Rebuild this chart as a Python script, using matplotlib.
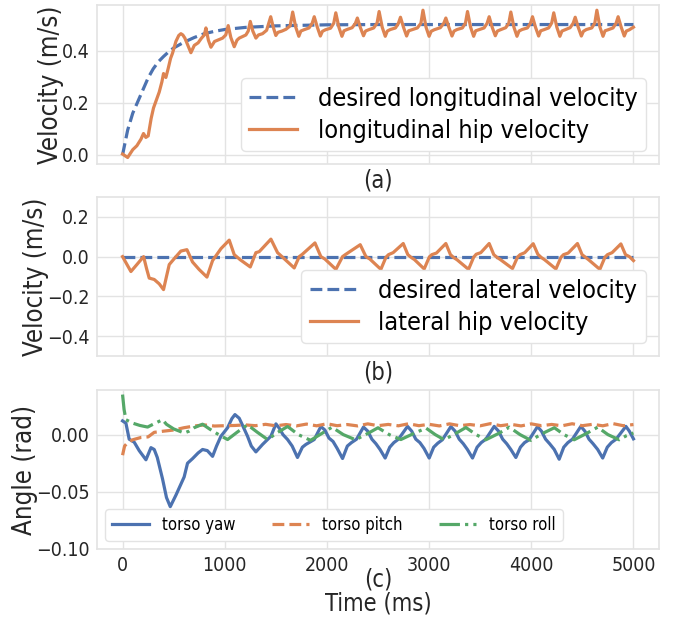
import matplotlib
matplotlib.use("Agg")
import matplotlib.pyplot as plt

# ---------------- data ----------------
desired_long_t = [0, 50, 100, 150, 200, 250, 300, 350, 400, 450, 500, 600, 700, 800, 900, 1000,
                  1200, 1500, 2000, 2500, 3000, 4000, 5000]
desired_long_v = [0.0, 0.095, 0.16, 0.205, 0.25, 0.295, 0.33, 0.357, 0.377, 0.395, 0.41, 0.432,
                  0.45, 0.465, 0.474, 0.481, 0.489, 0.495, 0.499, 0.5, 0.5, 0.5, 0.5]

long_t = [0, 50, 100, 140, 180, 205, 228, 251, 280, 303, 330, 359, 385, 401, 424, 447, 470, 489,
          522, 550, 571, 590, 610, 640, 669, 702, 740, 773, 800, 816, 840, 865, 900, 930, 979,
          1010, 1034, 1060, 1093, 1120, 1142, 1207, 1230, 1250, 1275, 1305, 1330, 1370, 1410,
          1450, 1475, 1500, 1520, 1560, 1600, 1640,
          1645, 1665, 1695, 1725, 1745, 1775, 1825,
          1856, 1876, 1906, 1936, 1956, 1986, 2036,
          2067, 2087, 2117, 2147, 2167, 2197, 2247,
          2278, 2298, 2328, 2358, 2378, 2408, 2458,
          2491, 2511, 2541, 2571, 2591, 2621, 2671,
          2700, 2720, 2750, 2780, 2800, 2830, 2885,
          2920, 2940, 2970, 3000, 3020, 3050, 3110,
          3144, 3164, 3194, 3224, 3244, 3274, 3326,
          3356, 3376, 3406, 3436, 3456, 3486, 3538,
          3568, 3588, 3618, 3648, 3668, 3698, 3750,
          3780, 3800, 3830, 3860, 3880, 3910, 3962,
          3992, 4012, 4042, 4072, 4092, 4122, 4170,
          4200, 4220, 4250, 4280, 4300, 4330, 4380,
          4410, 4430, 4460, 4490, 4510, 4540, 4592,
          4622, 4642, 4672, 4702, 4722, 4752, 4800,
          4830, 4850, 4880, 4910, 4930, 4960, 5000]
long_v = [0.003, -0.01, 0.02, 0.035, 0.06, 0.082, 0.067, 0.073, 0.14, 0.18, 0.21, 0.241, 0.28,
          0.312, 0.297, 0.332, 0.37, 0.39, 0.435, 0.458, 0.465, 0.46, 0.448, 0.42, 0.392, 0.42,
          0.43, 0.448, 0.46, 0.487, 0.44, 0.413, 0.435, 0.44, 0.448, 0.46, 0.496, 0.45, 0.415,
          0.44, 0.448, 0.46, 0.475, 0.512, 0.475, 0.448, 0.46, 0.465, 0.478, 0.53, 0.49, 0.458,
          0.47, 0.475, 0.482, 0.495,
          0.505, 0.548, 0.49, 0.455, 0.475, 0.48, 0.487,
          0.505, 0.530, 0.49, 0.456, 0.474, 0.48, 0.486,
          0.505, 0.545, 0.49, 0.455, 0.476, 0.481, 0.488,
          0.504, 0.525, 0.488, 0.457, 0.475, 0.48, 0.487,
          0.506, 0.550, 0.49, 0.455, 0.475, 0.481, 0.487,
          0.505, 0.528, 0.489, 0.456, 0.476, 0.48, 0.487,
          0.505, 0.555, 0.49, 0.455, 0.474, 0.48, 0.488,
          0.505, 0.525, 0.489, 0.456, 0.475, 0.481, 0.487,
          0.506, 0.550, 0.49, 0.455, 0.476, 0.48, 0.487,
          0.505, 0.530, 0.489, 0.457, 0.475, 0.48, 0.488,
          0.505, 0.548, 0.49, 0.455, 0.475, 0.481, 0.487,
          0.505, 0.530, 0.489, 0.456, 0.476, 0.48, 0.487,
          0.506, 0.545, 0.49, 0.455, 0.475, 0.48, 0.488,
          0.505, 0.528, 0.489, 0.456, 0.474, 0.481, 0.487,
          0.506, 0.555, 0.49, 0.455, 0.476, 0.48, 0.487,
          0.505, 0.530, 0.49, 0.456, 0.475, 0.48, 0.49]

desired_lat_t = [0, 5000]
desired_lat_v = [0.0, 0.0]

lat_t = [0, 82, 140, 206, 235, 261, 310, 359, 401, 430, 457, 506, 571, 630, 685, 750, 826, 881,
         963, 1044, 1093, 1150, 1250, 1305, 1338, 1452, 1517, 1560, 1680, 1729, 1760, 1883, 1941,
         1980, 2088, 2153, 2180, 2326, 2382, 2420,
         2528, 2578, 2603, 2648, 2747, 2792, 2822, 2857,
         2952, 3002, 3027, 3072, 3164, 3209, 3239, 3274,
         3386, 3436, 3461, 3506, 3588, 3633, 3663, 3698,
         3816, 3866, 3891, 3936, 4019, 4064, 4094, 4129,
         4241, 4291, 4316, 4361, 4452, 4497, 4527, 4562,
         4671, 4721, 4746, 4791, 4877, 4922, 4960, 5000]
lat_v = [0.0, -0.075, -0.04, 0.0, -0.06, -0.108, -0.115, -0.137, -0.166, -0.1, -0.04, -0.01,
         0.028, 0.035, -0.027, -0.065, -0.103, -0.02, 0.04, 0.083, 0.01, -0.015, -0.052, 0.02,
         0.025, 0.088, 0.02, 0.0, -0.057, 0.0, 0.012, 0.069, 0.0, -0.012, -0.064, 0.0, 0.01,
         0.06, 0.0, -0.012,
         -0.064, -0.003, 0.01, 0.02, 0.066, 0.01, -0.003, -0.015,
         -0.062, -0.002, 0.01, 0.018, 0.066, 0.01, -0.004, -0.016,
         -0.064, -0.003, 0.012, 0.02, 0.066, 0.01, -0.003, -0.015,
         -0.06, -0.002, 0.01, 0.02, 0.065, 0.012, -0.003, -0.015,
         -0.062, -0.003, 0.01, 0.018, 0.066, 0.01, -0.002, -0.016,
         -0.064, -0.003, 0.01, 0.02, 0.064, 0.01, 0.0, -0.02]

yaw_t = [0, 33, 65, 114, 163, 229, 278, 310, 340, 391, 430, 467, 522, 603, 636, 685, 740, 783,
         830, 881, 920, 963, 1028, 1070, 1100, 1142, 1180, 1223, 1260, 1305, 1370, 1452, 1501,
         1533, 1570, 1615, 1660, 1712, 1760, 1794, 1876, 1941, 1980, 2020, 2060, 2100, 2153,
         2200, 2240, 2290, 2358, 2400, 2440, 2480, 2520, 2570,
         2615, 2655, 2700, 2789, 2830, 2870, 2910, 2950, 3001,
         3045, 3085, 3130, 3213, 3255, 3295, 3335, 3375, 3425,
         3470, 3510, 3555, 3637, 3680, 3720, 3760, 3800, 3849,
         3894, 3934, 3979, 4061, 4100, 4140, 4180, 4225, 4273,
         4318, 4358, 4403, 4485, 4525, 4565, 4605, 4650, 4699,
         4744, 4784, 4830, 4926, 4960, 5000]
yaw_v = [0.012, 0.010, -0.004, -0.0066, -0.014, -0.022, -0.0114, -0.013, -0.02, -0.0386, -0.055,
         -0.063, -0.053, -0.037, -0.025, -0.021, -0.016, -0.013, -0.014, -0.019, -0.01, -0.0014,
         0.006, 0.014, 0.0175, 0.0143, 0.007, -0.0014, -0.01, -0.0151, -0.0086, -0.0014, 0.0094,
         0.0057, 0.0, -0.0043, -0.01, -0.02, -0.011, -0.0086, -0.0043, 0.0071, 0.004, -0.003,
         -0.006, -0.012, -0.0209, -0.01, -0.007, -0.004, 0.0066, 0.003, -0.004, -0.008, -0.013,
         -0.0205,
         -0.011, -0.007, -0.004, 0.0072, 0.003, -0.004, -0.007, -0.012, -0.0205,
         -0.011, -0.0075, -0.0045, 0.007, 0.003, -0.004, -0.008, -0.013, -0.0205,
         -0.011, -0.007, -0.004, 0.0072, 0.003, -0.004, -0.008, -0.013, -0.02,
         -0.011, -0.007, -0.0045, 0.007, 0.003, -0.004, -0.008, -0.013, -0.0215,
         -0.011, -0.007, -0.004, 0.0072, 0.003, -0.004, -0.008, -0.013, -0.0205,
         -0.011, -0.007, -0.004, 0.0072, 0.003, -0.0037]

pitch_t = [0, 20, 50, 100, 180, 250, 310, 400, 500, 600, 700, 800, 900, 1000, 1100, 1200,
           1300, 1400, 1500, 1600, 1700, 1800, 1900, 2000, 2100, 2200, 2300, 2400, 2500, 2600,
           2700, 2800, 2900, 3000, 3100, 3200, 3300, 3400, 3500, 3600, 3700, 3800, 3900, 4000,
           4100, 4200, 4300, 4400, 4500, 4600, 4700, 4800, 4900, 5000]
pitch_v = [-0.018, -0.01, -0.007, -0.0045, -0.0025, -0.002, 0.002, 0.003, 0.004, 0.006, 0.0075,
           0.0085, 0.0075, 0.0078, 0.008, 0.0085, 0.0078, 0.009, 0.0077, 0.0088, 0.0076, 0.0092,
           0.0077, 0.0095, 0.0078, 0.0088, 0.0076, 0.0094, 0.0078, 0.0089, 0.0077, 0.0095, 0.0078,
           0.009, 0.0076, 0.0094, 0.0078, 0.0088, 0.0077, 0.0096, 0.0078, 0.009, 0.0076, 0.0094,
           0.0078, 0.0089, 0.0077, 0.0095, 0.0078, 0.009, 0.0077, 0.0096, 0.0078, 0.0088]

roll_t = [0, 15, 33, 100, 170, 245, 320, 391, 430, 500, 603, 650, 700, 783, 850, 940, 1028,
          1120, 1223, 1320, 1419, 1520, 1615, 1720, 1840, 1950, 2050, 2160, 2280, 2400, 2500,
          2610, 2724, 2850, 2970, 3060, 3148, 3260, 3360, 3460, 3556, 3680, 3785, 3890, 3996,
          4110, 4226, 4320, 4420, 4540, 4650, 4750, 4860, 4930, 5000]
roll_v = [0.035, 0.022, 0.013, 0.01, 0.008, 0.0066, 0.01, 0.013, 0.009, 0.005, 0.0014, 0.003,
          0.006, 0.0091, 0.005, 0.0, -0.0043, 0.002, 0.0086, 0.002, -0.0043, 0.002, 0.0071, 0.0,
          -0.005, 0.001, 0.0065, 0.0, -0.0045, 0.001, 0.006, 0.0, -0.0043, 0.001, 0.0057, 0.0,
          -0.0045, 0.001, 0.0062, 0.0, -0.0045, 0.001, 0.0065, 0.0, -0.005, 0.001, 0.006, 0.0,
          -0.0045, 0.001, 0.0065, 0.0, -0.0045, -0.001, 0.0014]

xticks = [0, 1000, 2000, 3000, 4000, 5000]
yticks_a = [0.0, 0.2, 0.4]
yticks_b = [-0.4, -0.2, 0.0, 0.2]
yticks_c = [-0.10, -0.05, 0.00]

# ---------------- style ----------------
BLUE, ORANGE, GREEN = "#4C72B0", "#DD8452", "#55A868"
GRID = "#E3E3E3"
TXT = "#262626"
plt.rcParams["font.family"] = ["DejaVu Sans"]
plt.rcParams["font.stretch"] = "condensed"
plt.rcParams["axes.unicode_minus"] = True

fig = plt.figure(figsize=(6.77, 6.2), dpi=100)
L, W, H = 97 / 677, (659 - 97) / 677, 159 / 620
tops = [5, 197, 390]
axes = [fig.add_axes([L, 1 - (t + 159) / 620, W, H]) for t in tops]

for ax in axes:
    ax.set_facecolor("white")
    ax.grid(True, color=GRID, linewidth=1.0)
    ax.set_axisbelow(True)
    for s in ax.spines.values():
        s.set_color(GRID)
        s.set_linewidth(1.2)
    ax.tick_params(axis="both", length=0, labelsize=14, colors=TXT, pad=5)
    ax.set_xlim(-250, 5250)
    ax.set_xticks(xticks)

lw = 2.3
YL, XL, LEG = 18.5, 17, 18.2
a, b, c = axes
a.plot(desired_long_t, desired_long_v, "--", color=BLUE, lw=lw, label="desired longitudinal velocity")
a.plot(long_t, long_v, "-", color=ORANGE, lw=lw, label="longitudinal hip velocity")
a.set_yticks(yticks_a)
a.set_ylim(-0.035, 0.575)
a.set_xticklabels([])
a.set_ylabel("Velocity (m/s)", fontsize=YL, color=TXT, labelpad=-1)
a.set_xlabel("(a)", fontsize=XL, color=TXT, labelpad=-2)
a.legend(loc="lower right", fontsize=LEG, frameon=True, edgecolor=GRID, fancybox=True,
         handlelength=1.9, borderpad=0.35, labelspacing=0.3, framealpha=1)

b.plot(desired_lat_t, desired_lat_v, "--", color=BLUE, lw=lw, label="desired lateral velocity")
b.plot(lat_t, lat_v, "-", color=ORANGE, lw=lw, label="lateral hip velocity")
b.set_yticks(yticks_b)
b.set_ylim(-0.5, 0.3)
b.set_xticklabels([])
b.set_ylabel("Velocity (m/s)", fontsize=YL, color=TXT, labelpad=-1)
b.set_xlabel("(b)", fontsize=XL, color=TXT, labelpad=-2)
b.legend(loc="lower right", fontsize=LEG, frameon=True, edgecolor=GRID, fancybox=True,
         handlelength=1.9, borderpad=0.35, labelspacing=0.3, framealpha=1)

c.plot(yaw_t, yaw_v, "-", color=BLUE, lw=lw, label="torso yaw")
c.plot(pitch_t, pitch_v, "--", color=ORANGE, lw=lw, label="torso pitch")
c.plot(roll_t, roll_v, "-.", color=GREEN, lw=lw, label="torso roll")
c.set_yticks(yticks_c)
c.set_yticklabels(["\u22120.10", "\u22120.05", "0.00"])
c.set_ylim(-0.1, 0.039)
c.set_ylabel("Angle (rad)", fontsize=YL, color=TXT, labelpad=-1)
c.set_xlabel("(c)", fontsize=XL, color=TXT, labelpad=-5)
c.legend(loc="lower left", ncol=3, fontsize=12, frameon=True, edgecolor=GRID, fancybox=True,
         handlelength=2.2, borderpad=0.4, columnspacing=2.2, framealpha=1)

fig.text(378 / 677, 1 - 604 / 620, "Time (ms)", ha="center", va="center", fontsize=17, color=TXT)

fig.savefig("out.png", dpi=100, facecolor="white")
